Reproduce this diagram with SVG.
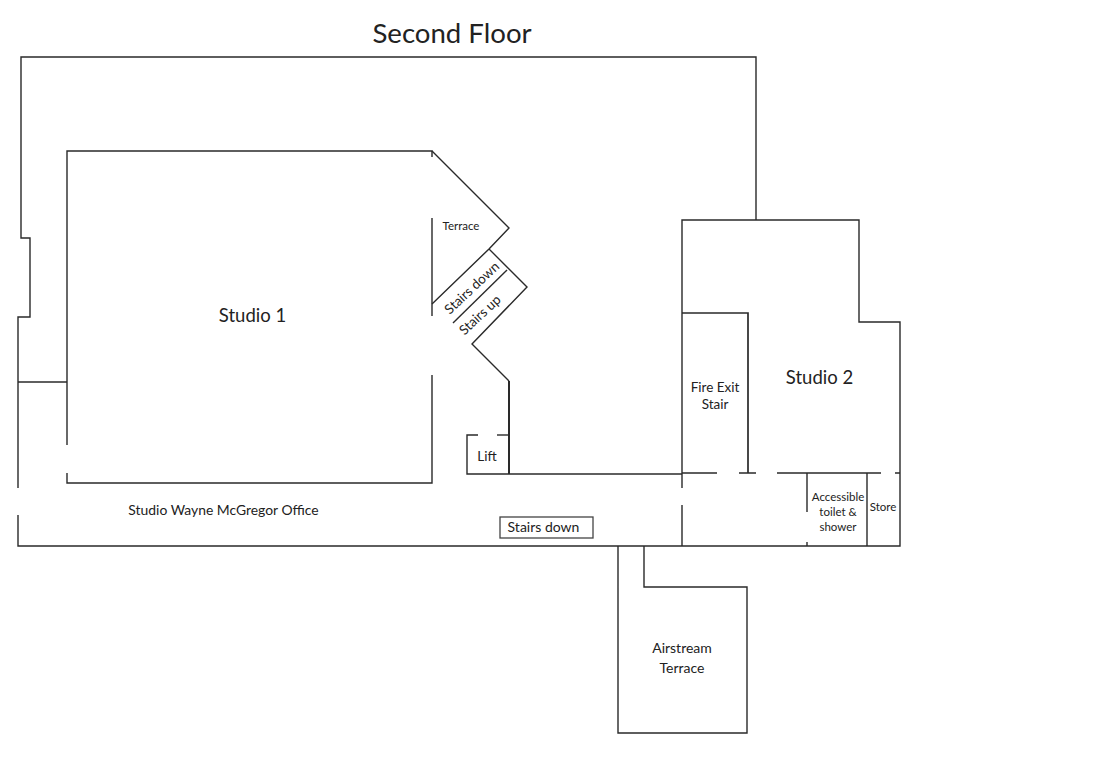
<svg xmlns="http://www.w3.org/2000/svg" width="1105" height="773" viewBox="0 0 1105 773">
<style>
text{font-family:"Lato","Noto Sans",sans-serif;fill:#222;text-anchor:middle}
.w{fill:none;stroke:#2a2a2a;stroke-width:1.4}
</style>
<rect width="1105" height="773" fill="#fff"/>
<text x="452" y="43" font-size="27.600">Second Floor</text>
<g class="w">
<path d="M756 220V57H21V238H30V317H18V488M18 515V546H900V322H859V220H682V488M682 505V546"/>
<path d="M18 382H67"/>
<path d="M67 445V151H432V157M432 218V316M432 375V483H67V473"/>
<path d="M432 151L509 228L489 249L432 304"/>
<path d="M489 249L527 287L472 344L509 381"/>
<path d="M507 270L453 323"/>
<path d="M478 435H467V474H509"/>
<path d="M497 435H509"/>
<path d="M509 381V474" stroke-width="2"/>
<path d="M509 474H682" stroke-width="1.600"/>
<path d="M682 313H748V473" stroke-width="1.700"/>
<path d="M682 473H717M739 473H756M777 473H881M895 473H900" stroke-width="1.600"/>
<path d="M807 473V512M807 542V546M867 473V546"/>
<path d="M618 546V733H747V587H644V546"/>
</g>
<rect x="500" y="517" width="93" height="21" fill="none" stroke="#444" stroke-width="1.300"/>
<g id="studio1"><text x="252.500" y="322" font-size="18.500">Studio 1</text></g>
<g id="studio2"><text x="819.500" y="384" font-size="18.500">Studio 2</text></g>
<g id="terrace"><text x="461" y="230" font-size="11.500">Terrace</text></g>
<g id="stairs-down-1"><text font-size="13.500" transform="translate(472 288) rotate(-43)" y="4.500">Stairs down</text></g>
<g id="stairs-up"><text font-size="13.500" transform="translate(480 315) rotate(-43)" y="4.500">Stairs up</text></g>
<g id="lift"><text x="487" y="461" font-size="13.500">Lift</text></g>
<g id="fire"><text x="715" y="392" font-size="13.500">Fire Exit</text><text x="715" y="409" font-size="13.500">Stair</text></g>
<g id="office"><text x="223.500" y="515" font-size="13.900">Studio Wayne McGregor Office</text></g>
<g id="stairs-down-2"><text x="543.500" y="532" font-size="14">Stairs down</text></g>
<g id="toilet"><text x="838" y="501" font-size="11.500">Accessible</text><text x="838" y="516" font-size="11.500">toilet &amp;</text><text x="838" y="531" font-size="11.500">shower</text></g>
<g id="store"><text x="883" y="511" font-size="11.500">Store</text></g>
<g id="airstream"><text x="682" y="653" font-size="14">Airstream</text><text x="682" y="672.500" font-size="14">Terrace</text></g>
</svg>
